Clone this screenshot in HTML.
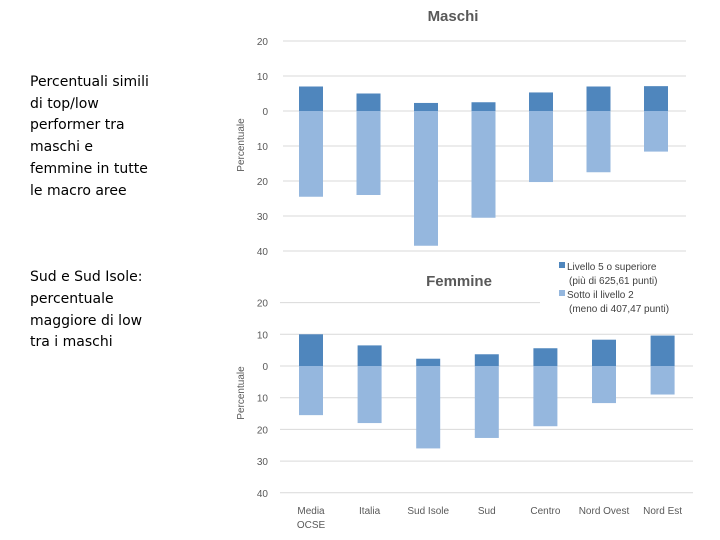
<!DOCTYPE html>
<html><head><meta charset="utf-8"><style>
body{margin:0;width:720px;height:540px;background:#fff;overflow:hidden;font-family:"Liberation Sans",sans-serif}
#txt{position:absolute;left:30px;top:72px;font-family:"DejaVu Sans",sans-serif;font-size:14px;line-height:21.7px;color:#000}
</style></head><body>
<div id="txt">
<div>Percentuali simili<br>di top/low<br>performer tra<br>maschi e<br>femmine in tutte<br>le macro aree</div>
<div style="margin-top:65px">Sud e Sud Isole:<br>percentuale<br>maggiore di low<br>tra i maschi</div>
</div>
<svg id="svg" width="720" height="540" style="position:absolute;left:0;top:0" font-family="Liberation Sans, sans-serif"></svg>
<script>
const categories=[["Media","OCSE"],["Italia"],["Sud Isole"],["Sud"],["Centro"],["Nord Ovest"],["Nord Est"]];
const maleTop=[7,5,2.3,2.5,5.3,7,7.1];
const maleLow=[24.5,24,38.5,30.5,20.3,17.5,11.6];
const femaleTop=[10,6.5,2.3,3.7,5.6,8.3,9.6];
const femaleLow=[15.5,18,26,22.7,19,11.7,9];
const ticks=[20,10,0,10,20,30,40];
const tickVals=[20,10,0,-10,-20,-30,-40];
const S="http://www.w3.org/2000/svg";
const svg=document.getElementById('svg');
function mk(t,a,p){const e=document.createElementNS(S,t);for(const k in a)e.setAttribute(k,a[k]);(p||svg).appendChild(e);return e;}
function chart(name,title,titleX,titleY,y0,pxPer,x0,x1,xs,top,low,gridStop,axisY){
 const g=mk('g',{});
 
 
 const y=v=>y0-v*pxPer;
 tickVals.forEach((v,i)=>{
  const gl=mk('line',{x1:x0,x2:(i===0&&gridStop)?gridStop:x1,y1:y(v),y2:y(v),stroke:'#d9d9d9','stroke-width':1},g);
  
  
  const t=mk('text',{x:268,y:y(v)+4,'text-anchor':'end','font-size':10,fill:'#595959'},g);
  t.textContent=ticks[i];
  
  
 });
 top.forEach((v,i)=>{
  const r=mk('rect',{x:xs(i)-12,y:y(v),width:24,height:y(0)-y(v),fill:'#4f86bd'},g);
  
  
  const r2=mk('rect',{x:xs(i)-12,y:y(0),width:24,height:y(-low[i])-y(0),fill:'#95b7de'},g);
  
  
 });
 const tt=mk('text',{x:titleX,y:titleY,'text-anchor':'middle','font-size':15,'font-weight':'bold',fill:'#595959'},g);
 tt.textContent=title;
 
 
 const at=mk('text',{x:0,y:0,'text-anchor':'middle','font-size':10,fill:'#595959',transform:`translate(244,${axisY}) rotate(-90)`},g);
 at.textContent='Percentuale';
 
 
 return xs;
}
chart('maschi-chart','Maschi',453,21,111,3.5,283,686,i=>311+i*57.5,maleTop,maleLow,null,145);
const fx=chart('femmine-chart','Femmine',459,286,366,3.17,280,693,i=>311+i*58.6,femaleTop,femaleLow,540,393);
categories.forEach((c,i)=>{
 c.forEach((l,j)=>{
  const t=mk('text',{x:fx(i),y:514+j*14,'text-anchor':'middle','font-size':10,fill:'#595959'});
  t.textContent=l;
  
  
 });
});
const legend=[["#4f86bd","Livello 5 o superiore","(più di 625,61 punti)"],["#95b7de","Sotto il livello 2","(meno di 407,47 punti)"]];
legend.forEach((l,i)=>{
 const r=mk('rect',{x:559,y:262+i*28,width:6,height:6,fill:l[0]});
 
 
 [l[1],l[2]].forEach((s,j)=>{
  const t=mk('text',{x:j?569:567,y:270+i*28+j*14,'font-size':10,fill:'#404040'});
  t.textContent=s;
  
  
 });
});
</script>
</body></html>
